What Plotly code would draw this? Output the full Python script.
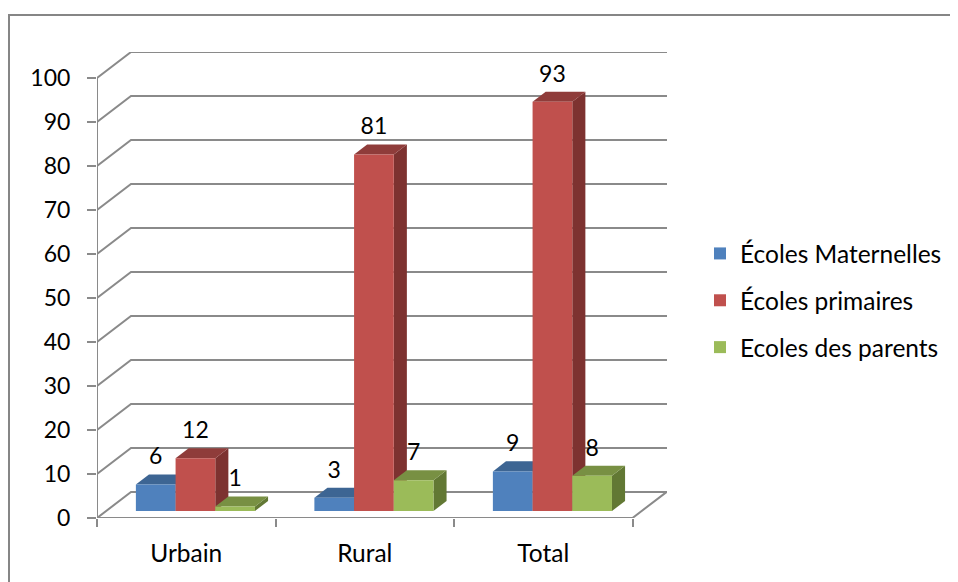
import plotly.graph_objects as go

categories = ["Urbain", "Rural", "Total"]
maternelles = [6, 3, 9]
primaires = [12, 81, 93]
parents = [1, 7, 8]
series_names = ["Écoles Maternelles", "Écoles primaires", "Ecoles des parents"]
series_values = [maternelles, primaires, parents]
y_ticks = list(range(0, 101, 10))

FRONT = ["#4F81BD", "#C0504D", "#9BBB59"]
TOP = ["#3D6593", "#8F3C3A", "#789043"]
SIDE = ["#375A85", "#7D3230", "#627834"]
GRID = "#8A8A8A"
FONT = "Lato"
TEXT = "#000000"

# the page has an 8px body margin, so the figure starts at (8, 8)
FIG_W, FIG_H = 950, 574
L, T, R, B = 89, 44, 291, 64
W, H = FIG_W - L - R, FIG_H - T - B
PX, PY = 178.5, 4.4              # px per x unit / per y unit
XMAX, YMAX = W / PX, H / PY
DX, DY = 34 / PX, 26 / PY        # wall depth in data units
BAR_W = 39.7 / PX
F0, F1 = 0.27, 0.655             # depth fraction of bar front / back

shapes = []


def line(xs, ys, width=2):
    path = "M" + " L".join(f"{a},{b}" for a, b in zip(xs, ys))
    shapes.append(dict(type="path", path=path, layer="below", xref="x", yref="y",
                       line=dict(color=GRID, width=width)))


def poly(xs, ys, color):
    path = "M" + " L".join(f"{a},{b}" for a, b in zip(xs, ys)) + " Z"
    shapes.append(dict(type="path", path=path, layer="below", xref="x", yref="y",
                       fillcolor=color, line=dict(width=0)))


# outer frame (figure px -> paper)
shapes.append(dict(type="rect", xref="paper", yref="paper", layer="below",
                   x0=(1 - L) / W, x1=(FIG_W + 20 - L) / W,
                   y0=(FIG_H - B - FIG_H - 20) / H, y1=(FIG_H - B - 7) / H,
                   line=dict(color="#868686", width=2), fillcolor="white"))

# walls and gridlines
for v in y_ticks:
    line([0, DX, XMAX], [v, v + DY, v + DY])
line([0, 0], [0, 100])
line([0, len(categories), len(categories) + DX, XMAX], [0, 0, DY, DY])

# bars
fig = go.Figure()
dx0 = DX * F0
dy0 = DY * F0
ddx = DX * (F1 - F0)
ddy = DY * (F1 - F0)
lx, ly, lt = [], [], []
for s, (name, vals) in enumerate(zip(series_names, series_values)):
    xs = [i + 0.5 + dx0 + (s - 1) * BAR_W for i in range(len(categories))]
    for x, v in zip(xs, vals):
        x0, x1, top = x - BAR_W / 2, x + BAR_W / 2, dy0 + v
        poly([x1, x1 + ddx, x1 + ddx, x1],
             [dy0, dy0 + ddy, top + ddy, top], SIDE[s])
        poly([x0, x1, x1 + ddx, x0 + ddx],
             [top, top, top + ddy, top + ddy], TOP[s])
        lx.append(x)
        ly.append(top + 26 / PY)
        lt.append(str(v))
    fig.add_trace(go.Bar(x=xs, y=vals, base=dy0, width=BAR_W, name=name,
                         legendgroup=name,
                         marker=dict(color=FRONT[s], line=dict(width=0))))

fig.add_trace(go.Scatter(x=lx, y=ly, text=lt, mode="text", showlegend=False,
                         textposition="middle center", cliponaxis=False,
                         hoverinfo="skip",
                         textfont=dict(family=FONT, size=23, color=TEXT)))

fig.update_layout(
    width=FIG_W, height=FIG_H, autosize=False,
    margin=dict(l=L, r=R, t=T, b=B, pad=0),
    paper_bgcolor="white", plot_bgcolor="rgba(0,0,0,0)",
    barmode="overlay",
    shapes=shapes,
    font=dict(family=FONT, size=24, color=TEXT),
    legend=dict(xref="container", yref="container",
                x=692 / FIG_W, y=1 - 223 / FIG_H, xanchor="left", yanchor="top",
                tracegroupgap=12, bgcolor="rgba(0,0,0,0)",
                font=dict(family=FONT, size=24.5, color=TEXT)),
    xaxis=dict(range=[0, XMAX], tickmode="array",
               tickvals=[i + 0.5 for i in range(len(categories))],
               ticktext=categories, ticks="", showgrid=False, zeroline=False,
               showline=False, ticklabelstandoff=18,
               tickfont=dict(family=FONT, size=24.5, color=TEXT),
               minor=dict(tickmode="array", tickvals=list(range(len(categories) + 1)),
                          ticks="outside", ticklen=8, tickwidth=2, tickcolor=GRID,
                          showgrid=False)),
    yaxis=dict(range=[0, YMAX], tickmode="array", tickvals=y_ticks,
               ticks="outside", ticklen=9, tickwidth=2, tickcolor=GRID,
               showgrid=False, zeroline=False, showline=False, ticklabelstandoff=12,
               tickfont=dict(family=FONT, size=23, color=TEXT)),
)

fig.write_html("out.html")
